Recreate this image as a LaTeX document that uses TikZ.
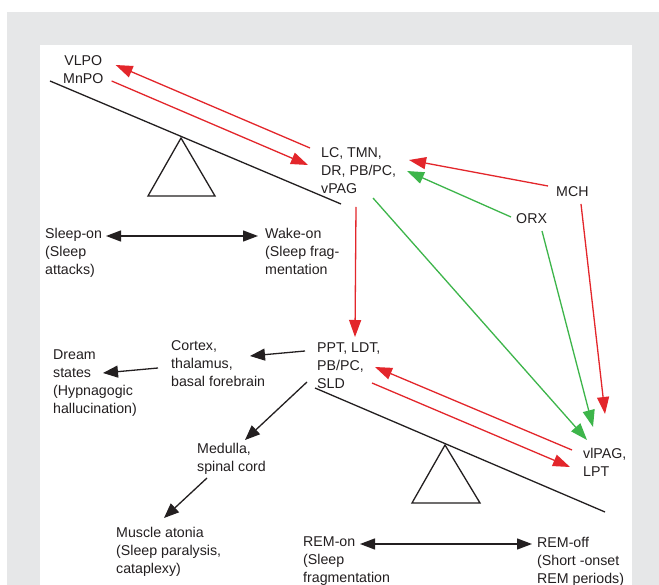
\documentclass[tikz,border=0pt]{standalone}
\usepackage{fontspec}
\setmainfont{Liberation Sans}
\usepackage{tikz}
\usetikzlibrary{arrows.meta}
\definecolor{inhib}{RGB}{227, 38, 43}
\definecolor{excit}{RGB}{61, 181, 74}
\definecolor{panel}{RGB}{230, 231, 232}
\definecolor{ink}{RGB}{35, 31, 32}

\begin{document}
\begin{tikzpicture}[
   x=1pt, y=-1pt,
   label/.style={inner sep=0, anchor=north west, align=left, text=ink,
                 font=\fontsize{14.2}{18}\selectfont},
   redarr/.style={-{Triangle[length=17pt, width=12pt]}, color=inhib, line width=1.3},
   grnarr/.style={-{Triangle[length=17pt, width=12pt]}, color=excit, line width=1.3},
   blkarr/.style={-{Triangle[length=15pt, width=12pt]}, color=ink, line width=1.3},
   twoarr/.style={{Triangle[length=15pt, width=11pt]}-{Triangle[length=15pt, width=11pt]},
                  color=ink, line width=1.3},
   seesaw/.style={draw=ink, line width=1.3}
  ]

  % Frame
  \useasboundingbox (0, 0) rectangle (659, 585);
  \fill[panel] (7, 12) rectangle (659, 585);
  \fill[white] (40, 45) rectangle (632, 585);

  % Wake / sleep balance
  \draw[seesaw] (50, 81) -- (341, 204);
  \draw[seesaw] (181, 138) -- (148, 196) -- (215, 196) -- cycle;

  % REM balance
  \draw[seesaw] (315, 388) -- (605, 512);
  \draw[seesaw] (445, 445) -- (412, 503) -- (480, 503) -- cycle;

  \node (vlpo) at (63, 55) [label, align=center] {VLPO\\MnPO};
  \node (lc) at (321, 147) [label] {LC, TMN,\\DR, PB/PC,\\vPAG};
  \node (mch) at (556, 186) [label] {MCH};
  \node (orx) at (516, 213) [label] {ORX};
  \node (sleepon) at (45, 228) [label] {Sleep-on\\(Sleep\\attacks)};
  \node (wakeon) at (265, 228) [label] {Wake-on\\(Sleep frag-\\mentation};
  \node (ppt) at (317, 343) [label] {PPT, LDT,\\PB/PC,\\SLD};
  \node (cortex) at (171, 340) [label] {Cortex,\\thalamus,\\basal forebrain};
  \node (dream) at (53, 350) [label] {Dream\\states\\(Hypnagogic\\hallucination)};
  \node (medulla) at (197, 443) [label] {Medulla,\\spinal cord};
  \node (muscle) at (116, 527) [label] {Muscle atonia\\(Sleep paralysis,\\cataplexy)};
  \node (vlpag) at (583, 448) [label] {vlPAG,\\LPT};
  \node (remon) at (303, 537) [label] {REM-on\\(Sleep\\fragmentation};
  \node (remoff) at (537, 537) [label] {REM-off\\(Short -onset\\REM periods)};

  % Inhibitory links
  \draw[redarr] ([shift={(-11, 1)}]lc.north west) -- ([shift={(12, 10)}]vlpo.north east);
  \draw[redarr] ([shift={(8, 26)}]vlpo.north east) -- ([shift={(-13, 18)}]lc.north west);
  \draw[redarr] ([shift={(-8, 0)}]mch.north west) -- ([shift={(88, 13)}]lc.north west);
  \draw[redarr] ([shift={(25, 18)}]mch.north west) -- ([shift={(22, -34)}]vlpag.north west);
  \draw[redarr] ([shift={(35, 60)}]lc.north west) -- ([shift={(38, -6)}]ppt.north west);
  \draw[redarr] ([shift={(-11, 2)}]vlpag.north west) -- ([shift={(58, 24)}]ppt.north west);
  \draw[redarr] ([shift={(55, 40)}]ppt.north west) -- ([shift={(-13, 19)}]vlpag.north west);

  % Excitatory links
  \draw[grnarr] ([shift={(-5, 4)}]orx.north west) -- ([shift={(86, 24)}]lc.north west);
  \draw[grnarr] ([shift={(52, 51)}]lc.north west) -- ([shift={(4, -8)}]vlpag.north west);
  \draw[grnarr] ([shift={(26, 18)}]orx.north west) -- ([shift={(10, -21)}]vlpag.north west);

  % Outputs
  \draw[blkarr] ([shift={(-12, 8)}]ppt.north west) -- ([shift={(79, 16)}]cortex.north west);
  \draw[blkarr] ([shift={(-13, 28)}]cortex.north west) -- ([shift={(50, 23)}]dream.north west);
  \draw[blkarr] ([shift={(-10, 39)}]ppt.north west) -- ([shift={(48, -3)}]medulla.north west);
  \draw[blkarr] ([shift={(10, 35)}]medulla.north west) -- ([shift={(48, -9)}]muscle.north west);

  \draw[twoarr] ([shift={(61, 8)}]sleepon.north west) -- ([shift={(-7, 8)}]wakeon.north west);
  \draw[twoarr] ([shift={(57, 7)}]remon.north west) -- ([shift={(-5, 7)}]remoff.north west);

\end{tikzpicture}
\end{document}
